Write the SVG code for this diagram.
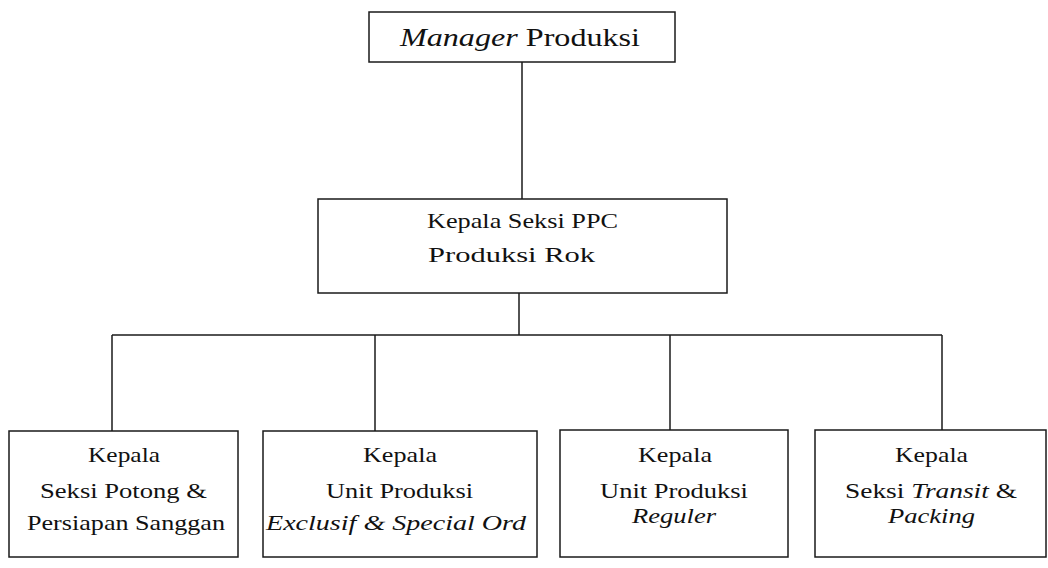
<svg xmlns="http://www.w3.org/2000/svg" width="1048" height="568" viewBox="0 0 1048 568">
  <style>
    .box { fill: #ffffff; stroke: #1a1a1a; stroke-width: 1.5; }
    .conn { fill: none; stroke: #1a1a1a; stroke-width: 1.5; }
    text { fill: #111111; }
    .t25 { font-size: 25px; }
    .t21 { font-size: 21px; }
    .t22 { font-size: 22px; }
    .i { font-style: italic; }
  </style>
  <rect width="1048" height="568" fill="#ffffff"/>

  <g id="connectors">
    <line class="conn" x1="522" y1="62" x2="522" y2="199"/>
    <line class="conn" x1="519" y1="293" x2="519" y2="335"/>
    <line class="conn" x1="112" y1="335" x2="942" y2="335"/>
    <line class="conn" x1="112" y1="335" x2="112" y2="431"/>
    <line class="conn" x1="375" y1="335" x2="375" y2="431"/>
    <line class="conn" x1="670" y1="335" x2="670" y2="430"/>
    <line class="conn" x1="942" y1="335" x2="942" y2="430"/>
  </g>

  <g id="manager-produksi">
    <rect class="box" x="369" y="12" width="306" height="50"/>
    <text class="t25" x="400" y="46" font-family="Liberation Serif, serif" textLength="240" lengthAdjust="spacingAndGlyphs"><tspan class="i">Manager</tspan> Produksi</text>
  </g>

  <g id="kepala-seksi-ppc">
    <rect class="box" x="318" y="199" width="409" height="94"/>
    <text class="t21" x="427" y="228" font-family="Liberation Serif, serif" textLength="191" lengthAdjust="spacingAndGlyphs">Kepala Seksi PPC</text>
    <text class="t21" x="428" y="262" font-family="Liberation Serif, serif" textLength="167" lengthAdjust="spacingAndGlyphs">Produksi Rok</text>
  </g>

  <g id="seksi-potong">
    <rect class="box" x="9" y="431" width="229" height="126"/>
    <text class="t22" x="88" y="462" font-family="Liberation Serif, serif" textLength="72" lengthAdjust="spacingAndGlyphs">Kepala</text>
    <text class="t22" x="40" y="498" font-family="Liberation Serif, serif" textLength="167" lengthAdjust="spacingAndGlyphs">Seksi Potong &amp;</text>
    <text class="t22" x="27" y="530" font-family="Liberation Serif, serif" textLength="198" lengthAdjust="spacingAndGlyphs">Persiapan Sanggan</text>
  </g>

  <g id="unit-exclusif">
    <rect class="box" x="263" y="431" width="274" height="126"/>
    <text class="t22" x="363" y="462" font-family="Liberation Serif, serif" textLength="74" lengthAdjust="spacingAndGlyphs">Kepala</text>
    <text class="t22" x="326" y="498" font-family="Liberation Serif, serif" textLength="147" lengthAdjust="spacingAndGlyphs">Unit Produksi</text>
    <text class="t22 i" x="266" y="530" font-family="Liberation Serif, serif" textLength="260" lengthAdjust="spacingAndGlyphs">Exclusif &amp; Special Ord</text>
  </g>

  <g id="unit-reguler">
    <rect class="box" x="560" y="430" width="228" height="127"/>
    <text class="t22" x="638" y="462" font-family="Liberation Serif, serif" textLength="74" lengthAdjust="spacingAndGlyphs">Kepala</text>
    <text class="t22" x="600" y="498" font-family="Liberation Serif, serif" textLength="148" lengthAdjust="spacingAndGlyphs">Unit Produksi</text>
    <text class="t22 i" x="632" y="523" font-family="Liberation Serif, serif" textLength="84" lengthAdjust="spacingAndGlyphs">Reguler</text>
  </g>

  <g id="seksi-transit">
    <rect class="box" x="815" y="430" width="231" height="127"/>
    <text class="t22" x="895" y="462" font-family="Liberation Serif, serif" textLength="73" lengthAdjust="spacingAndGlyphs">Kepala</text>
    <text class="t22" x="845" y="498" font-family="Liberation Serif, serif" textLength="172" lengthAdjust="spacingAndGlyphs">Seksi <tspan class="i">Transit</tspan> &amp;</text>
    <text class="t22 i" x="888" y="523" font-family="Liberation Serif, serif" textLength="87" lengthAdjust="spacingAndGlyphs">Packing</text>
  </g>
</svg>
